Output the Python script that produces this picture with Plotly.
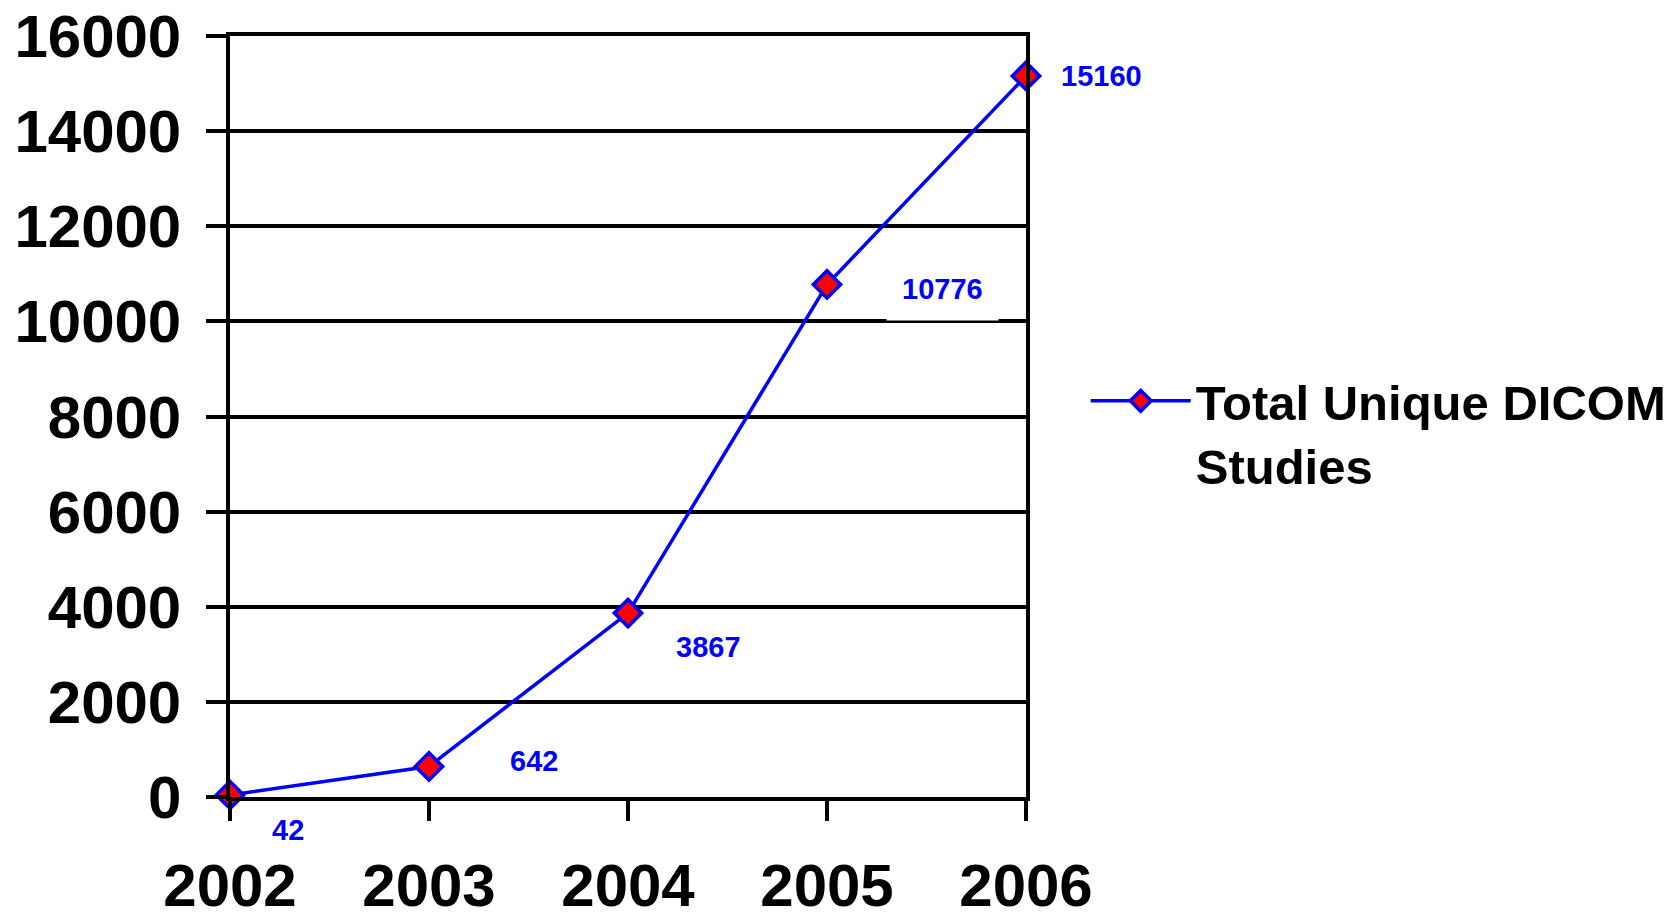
import plotly.graph_objects as go

years = ["2002", "2003", "2004", "2005", "2006"]
studies = [42, 642, 3867, 10776, 15160]
label_text = ["42", "642", "3867", "10776", "15160"]
series_name = "Total Unique DICOM<br>Studies"
y_ticks = [0, 2000, 4000, 6000, 8000, 10000, 12000, 14000, 16000]

# label offsets in px (style only)
label_shift = [(58, -35), (105, 5), (80, -34), (115, -5), (75, 0)]

FONT = "Liberation Sans, Arial, sans-serif"

fig = go.Figure()
fig.add_trace(go.Scatter(
    x=list(range(len(years))), y=studies, name=series_name, mode="lines+markers",
    line=dict(color="#0000FF", width=3.5),
    marker=dict(symbol="diamond", size=21, color="#FF0000", line=dict(color="#0000FF", width=3.5)),
    cliponaxis=False,
))

for i, (v, t) in enumerate(zip(studies, label_text)):
    dx, dy = label_shift[i]
    fig.add_annotation(
        x=i, y=v, text=t, showarrow=False, xshift=dx, yshift=dy,
        font=dict(family=FONT, size=29, color="#0000FF", weight="bold"),
        bgcolor="white" if t == "10776" else None,
        borderpad=15 if t == "10776" else 1,
    )

fig.update_layout(
    width=1676, height=912,
    margin=dict(l=222, r=658, t=28, b=123, autoexpand=False),
    plot_bgcolor="white", paper_bgcolor="white",
    font=dict(family=FONT, color="black"),
    showlegend=True,
    legend=dict(
        x=1.075, y=0.571, xanchor="left", yanchor="top", valign="top",
        font=dict(family=FONT, size=49, color="black", weight="bold"),
        itemwidth=100, bgcolor="rgba(0,0,0,0)", tracegroupgap=0,
    ),
)
fig.update_xaxes(
    range=[0, 4], tickvals=list(range(len(years))), ticktext=years,
    showgrid=False, showline=True, linecolor="black", linewidth=3.5, mirror=True,
    ticks="outside", ticklen=20, tickwidth=3.5, tickcolor="black",
    tickfont=dict(family=FONT, size=60, color="black", weight="bold"),
    ticklabelstandoff=13, zeroline=False, automargin=False,
    ticklabeloverflow="allow",
)
fig.update_yaxes(
    range=[0, 16000], tickvals=y_ticks, ticktext=[str(v) for v in y_ticks],
    showgrid=True, gridcolor="black", gridwidth=3.5,
    showline=True, linecolor="black", linewidth=3.5, mirror=True,
    ticks="outside", ticklen=20, tickwidth=3.5, tickcolor="black",
    tickfont=dict(family=FONT, size=60, color="black", weight="bold"),
    ticklabelstandoff=13, zeroline=False, automargin=False,
    ticklabeloverflow="allow",
)

fig.write_html("out.html")
